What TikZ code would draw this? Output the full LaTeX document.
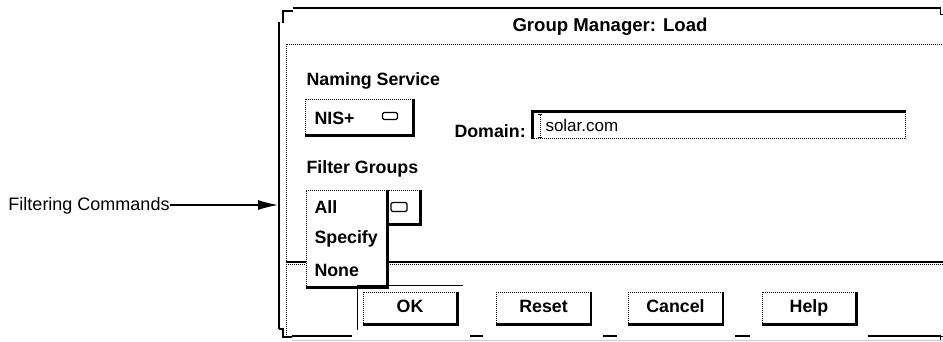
\documentclass[tikz,border=0pt]{standalone}
\usepackage{fontspec}
\setmainfont{Liberation Sans}
\usetikzlibrary{arrows.meta}

\begin{document}
\begin{tikzpicture}[x=1pt,y=-1pt,line width=1pt,
    gui/.style={font=\fontsize{17.8}{18}\selectfont\bfseries,inner sep=0pt,anchor=base west},
    dots/.style={dash pattern=on 1pt off 1pt,line width=1pt},
    rim/.style={line width=2.2pt},
    box/.style={dots,draw,fill=white,inner sep=0pt},
    menumark/.style={draw,rounded corners=1.5pt,inner sep=0pt,line width=1.2pt},
    btn/.style={box,minimum width=94pt,minimum height=32pt,text height=12.5pt,text depth=3pt,
      font=\fontsize{17.8}{18}\selectfont\bfseries}]
  \useasboundingbox (0,0) rectangle (943,341);

  % window frame
  \draw[line width=2.4pt] (279,22) -- (279,329);
  \draw[line width=2.4pt] (293,8) -- (941,8);
  \draw[line width=1.4pt] (283,23) -- (283,11) -- (293,11);
  \draw[line width=1.4pt] (279,329) -- (283,329) -- (283,337) -- (292,337);
  \draw[line width=1pt] (940,8) -- (940,14) -- (943,14);
  \draw[line width=1pt] (940,341) -- (940,336) -- (943,336);
  \node[font=\fontsize{18.6}{19}\selectfont\bfseries,inner sep=0pt,anchor=base] (title) at (610,31) {Group Manager: Load};
  \draw[dots] (286,335) -- (286,44) -- (943,44);

  % naming service
  \node[gui] (naming) at (306,85) {Naming Service};
  \node[box,minimum width=108pt,minimum height=36pt] (nis) at (359,117) {};
  \draw[rim] (nis.north east) -- (nis.south east) -- (nis.south west);
  \node[gui] (nislbl) at (314,124) {NIS+};
  \node[menumark,minimum width=15pt,minimum height=7pt] (nismark) at (390,116) {};

  % domain field
  \node[gui] (domain) at (454,137) {Domain:};
  \node[inner sep=0pt,minimum width=372pt,minimum height=26pt] (field) at (719,125) {};
  \draw[dots] (field.north east) -- (field.south east) -- (field.south west);
  \draw[rim] (field.south west) -- (field.north west) -- (field.north east);
  \node[anchor=base west,font=\fontsize{17}{17}\selectfont,inner sep=0pt] (value) at (545,131) {solar.com};
  \draw[dots,line width=0.8pt] (540,115) -- (540,136);
  \draw[line width=0.6pt] (538,114) -- (542,114) (538,137) -- (542,137);

  % filter groups
  \node[gui] (filter) at (306,173) {Filter Groups};
  \draw[line width=1.4pt] (286,262) -- (943,262);
  \draw[dots] (286,264.5) -- (943,264.5);
  \node[box,minimum width=114pt,minimum height=34pt] (fgbox) at (363,207) {};
  \draw[rim] (fgbox.north east) -- (fgbox.south east) -- (fgbox.south west);
  \node[menumark,minimum width=16pt,minimum height=9pt] (fgmark) at (399,207) {};
  \node[box,minimum width=81pt,minimum height=97pt] (menu) at (346.5,238.5) {};
  \draw[rim] (menu.north east) -- (menu.south east) -- (menu.south west);
  \node[gui] (all) at (314,213) {All};
  \node[gui] (specify) at (314,243) {Specify};
  \node[gui] (none) at (314,276) {None};

  % buttons
  \draw (357,330) -- (357,285) -- (463,285);
  \foreach \name/\x/\txt in {ok/410/OK, reset/543.5/Reset, cancel/675.5/Cancel, help/809/Help} {
    \node[btn] (\name) at (\x,308) {\txt};
    \draw[rim] (\name.north east) -- (\name.south east) -- (\name.south west);
  }
  \foreach \a/\b in {292/352, 470/483, 603/617, 735/750, 868/941}
    \draw[line width=1.5pt] (\a,336) -- (\b,336);
  \draw[gray!40] (292,340) -- (943,340);

  % callout
  \node[anchor=base west,inner sep=0pt,font=\fontsize{18}{18}\selectfont] (cmds) at (8,210) {Filtering Commands};
  \coordinate (tip) at (278,205);
  \draw[line width=1.2pt,-{Latex[length=20pt,width=10pt]}] (cmds.east |- tip) -- (tip);
\end{tikzpicture}
\end{document}
